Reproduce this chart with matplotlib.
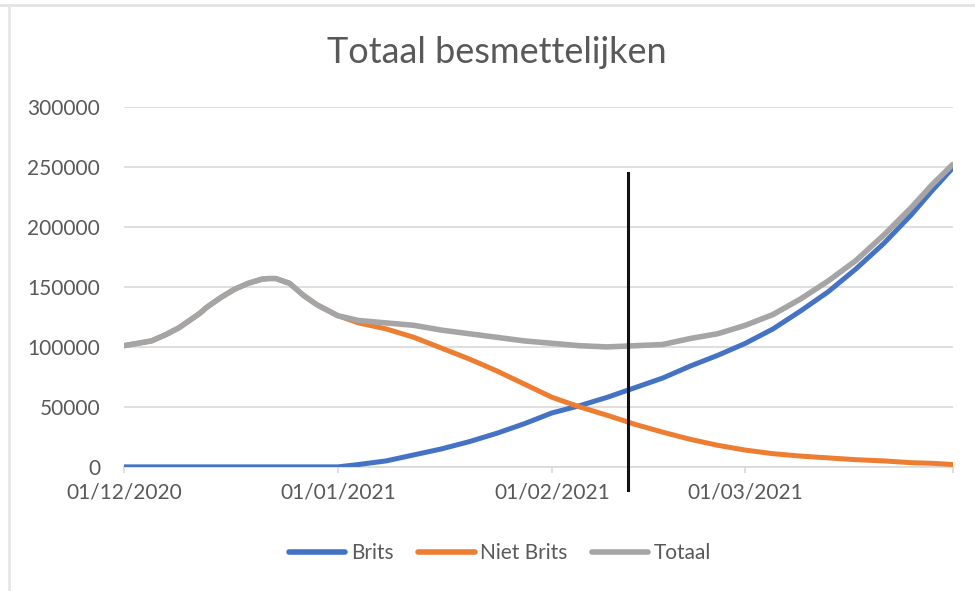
import pandas as pd
import matplotlib.pyplot as plt
import matplotlib.dates as mdates
from matplotlib.lines import Line2D

# data (every 2 days in December, every few days after)
dates = pd.to_datetime([
    '2020-12-01', '2020-12-03', '2020-12-05', '2020-12-07', '2020-12-09', '2020-12-11',
    '2020-12-12', '2020-12-13', '2020-12-15', '2020-12-17', '2020-12-19', '2020-12-21',
    '2020-12-22', '2020-12-23', '2020-12-25', '2020-12-27', '2020-12-29', '2020-12-31',
    '2021-01-01',
    '2021-01-04', '2021-01-08', '2021-01-12', '2021-01-16', '2021-01-20', '2021-01-24',
    '2021-01-28', '2021-02-01', '2021-02-05', '2021-02-09', '2021-02-13', '2021-02-17',
    '2021-02-21', '2021-02-25', '2021-03-01', '2021-03-05', '2021-03-09', '2021-03-13',
    '2021-03-17', '2021-03-21', '2021-03-25', '2021-03-28', '2021-03-31'])

# totals before the British variant appears (Brits = 0, so Niet Brits = Totaal)
december = [101000, 103000, 105000, 110000, 116000, 124000,
            128000, 133000, 141000, 148000, 153000, 156500,
            157000, 157000, 153000, 143000, 135000, 129000,
            126000]

brits = [0] * len(december) + [
    2000, 5000, 10000, 15000, 21000, 28000,
    36000, 45000, 51000, 58000, 66000, 74000,
    84000, 93000, 103000, 115000, 130000, 146000,
    165000, 186000, 210000, 230000, 249000]

niet_brits = december + [
    120000, 115000, 108000, 99000, 90000, 80000,
    69000, 58000, 50000, 43000, 35500, 29000,
    23000, 18000, 14000, 11000, 9000, 7500,
    6000, 5000, 3500, 3000, 2000]

totaal = december + [
    122000, 120000, 118000, 114000, 111000, 108000,
    105000, 103000, 101000, 100000, 101000, 102000,
    107000, 111000, 118000, 127000, 140000, 155000,
    172000, 193000, 216000, 235000, 252000]

month_ticks = pd.to_datetime(['2020-12-01', '2021-01-01', '2021-02-01', '2021-03-01'])
y_ticks = [0, 50000, 100000, 150000, 200000, 250000, 300000]

marker_date = pd.Timestamp('2021-02-12')
marker_span = (-19000, 245000)

plt.rcParams['font.family'] = ['Lato', 'DejaVu Sans']
txt = '#595959'

fig = plt.figure(figsize=(9.75, 5.91), dpi=100)
ax = fig.add_axes([0.127, 0.210, 0.850, 0.609])

ax.plot(dates, brits, color='#4472C4', lw=3.6, label='Brits',
        solid_capstyle='round', solid_joinstyle='round', zorder=3)
ax.plot(dates, niet_brits, color='#ED7D31', lw=3.6, label='Niet Brits',
        solid_capstyle='round', solid_joinstyle='round', zorder=3)
ax.plot(dates, totaal, color='#A5A5A5', lw=4.0, label='Totaal',
        solid_capstyle='round', solid_joinstyle='round', zorder=4)

# vertical marker line, sticks out below the axis
ax.plot([marker_date, marker_date], marker_span, color='#111111', lw=2.2,
        clip_on=False, zorder=5)

ax.set_ylim(0, 300000)
ax.set_xlim(dates[0], dates[-1])
ax.set_yticks(y_ticks)
ax.set_yticklabels([str(v) for v in y_ticks])
ax.set_xticks(month_ticks)
ax.xaxis.set_major_formatter(mdates.DateFormatter('%d/%m/%Y'))
ax.set_xticks([dates[-1]], minor=True)

ax.grid(axis='y', color='#D9D9D9', lw=1.2)
ax.set_axisbelow(True)
for s in ['top', 'right', 'left']:
    ax.spines[s].set_visible(False)
ax.spines['bottom'].set_color('#D9D9D9')
ax.spines['bottom'].set_linewidth(1.2)

ax.tick_params(axis='y', length=0, pad=17, labelsize=15, labelcolor=txt)
ax.tick_params(axis='x', which='both', length=4, width=1.2, color='#D9D9D9',
               pad=7, labelsize=15, labelcolor=txt)

fig.text(0.51, 0.912, 'Totaal besmettelijken', ha='center', va='center',
         fontsize=26, color=txt)

leg = ax.legend(loc='center', bbox_to_anchor=(0.454, -0.239), ncol=3, frameon=False,
                fontsize=15, labelcolor=txt, handlelength=2.7, handletextpad=0.25,
                columnspacing=1.2)
for h in leg.legend_handles:
    h.set_linewidth(4.0)

# light frame of the chart area (top and left edges only visible)
fig.add_artist(Line2D([0.0, 1.0], [0.991, 0.991], transform=fig.transFigure,
                      color='#E3E3E3', lw=2))
fig.add_artist(Line2D([0.009, 0.009], [0.0, 0.991], transform=fig.transFigure,
                      color='#E6E6E6', lw=2))

fig.savefig('out.png', dpi=100)
